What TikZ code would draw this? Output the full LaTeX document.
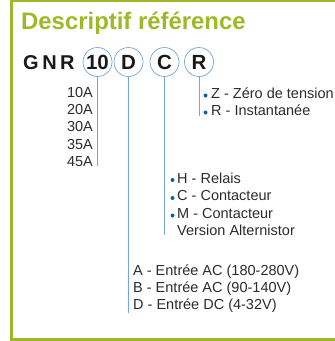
\documentclass[tikz,border=0pt]{standalone}
\usepackage{fontspec}
\setmainfont{Liberation Sans}
\definecolor{framegreen}{RGB}{160,184,40}
\definecolor{ringblue}{RGB}{120,165,215}
\definecolor{dotblue}{RGB}{10,95,165}
\definecolor{inktext}{RGB}{45,42,42}
\tikzset{
  ring/.style={circle,draw=ringblue,line width=0.7pt,minimum size=29pt,inner sep=0pt,font=\bfseries\fontsize{20.5}{20}\selectfont,text=black!90},
  lead/.style={draw=ringblue,line width=0.9pt},
  item/.style={anchor=base west,inner sep=0pt,font=\fontsize{14.5}{16}\selectfont,text=inktext},
  amp/.style={anchor=base east,inner sep=0pt,font=\fontsize{14.5}{16}\selectfont,text=inktext},
  bul/.style={circle,fill=dotblue,minimum size=4pt,inner sep=0pt},
}
\begin{document}
\begin{tikzpicture}[x=1pt,y=-1pt]
\useasboundingbox (0,0) rectangle (335,341);
\draw[framegreen,line width=3pt] (335,0.5) -- (11.5,0.5) -- (11.5,339.5) -- (335,339.5);
\node[anchor=base west,inner sep=0pt,text=framegreen,font=\bfseries\fontsize{23.9}{24}\selectfont] (title) at (21,29) {Descriptif référence};
\node[anchor=base west,inner sep=0pt,text=black!90,font=\bfseries\fontsize{20}{20}\selectfont] (gnr) at (23,69.5) {G\kern3.5pt N\kern3.5pt R};
\node[ring] (c10) at (97.5,62) {10};
\node[ring] (cD) at (128.5,62) {D};
\node[ring] (cC) at (164.5,62) {C};
\node[ring] (cR) at (199,62) {R};
\coordinate (e10) at (97.5,166);
\coordinate (eD) at (128.5,312.5);
\coordinate (eC) at (164.5,235);
\coordinate (eR) at (199,116);
\draw[lead] (c10) -- (e10);
\draw[lead] (cD) -- (eD);
\draw[lead] (cC) -- (eC);
\draw[lead] (cR) -- (eR);
\node[amp] (a1) at (93,97) {10A};
\node[amp] (a2) at (93,114) {20A};
\node[amp] (a3) at (93,131) {30A};
\node[amp] (a4) at (93,149) {35A};
\node[amp] (a5) at (93,166) {45A};
\node[bul] (b1) at (205.5,95.5) {};
\node[item] (z) at (211,98) {Z - Zéro de tension};
\node[bul] (b2) at (205.5,112.5) {};
\node[item] (r) at (211,115) {R - Instantanée};
\node[bul] (b3) at (172.5,180) {};
\node[item] (h) at (177,183) {H - Relais};
\node[bul] (b4) at (172.5,198) {};
\node[item] (c) at (177,200.5) {C - Contacteur};
\node[bul] (b5) at (172.5,215.5) {};
\node[item] (m) at (177,218) {M - Contacteur};
\node[item] (v) at (177,235) {Version Alternistor};
\node[item] (ea) at (133,275) {A - Entrée AC (180-280V)};
\node[item] (eb) at (133,292) {B - Entrée AC (90-140V)};
\node[item] (ec) at (133,309.5) {D - Entrée DC (4-32V)};
\end{tikzpicture}
\end{document}
